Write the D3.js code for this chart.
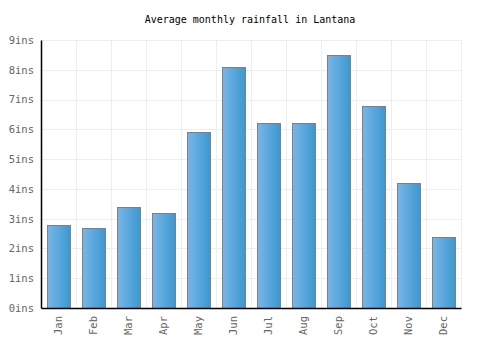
<!DOCTYPE html>
<html>
<head>
<meta charset="utf-8">
<script src="https://cdn.jsdelivr.net/npm/d3@7"></script>
<style>
  body { margin: 0; background: #fff; }
  text { font-family: "DejaVu Sans Mono", monospace; }
</style>
</head>
<body>
<div id="chart"></div>
<script>
const months = ["Jan", "Feb", "Mar", "Apr", "May", "Jun", "Jul", "Aug", "Sep", "Oct", "Nov", "Dec"];
const rainfall = [2.8, 2.7, 3.4, 3.2, 5.9, 8.1, 6.2, 6.2, 8.5, 6.8, 4.2, 2.4];
const yTicks = [0, 1, 2, 3, 4, 5, 6, 7, 8, 9];

const width = 500, height = 350;
const margin = { top: 40, right: 39, bottom: 42, left: 41 };
const innerW = width - margin.left - margin.right;
const innerH = height - margin.top - margin.bottom;

const svg = d3.select("#chart").append("svg")
    .attr("width", width)
    .attr("height", height);

const defs = svg.append("defs");
const grad = defs.append("linearGradient")
    .attr("id", "barGrad")
    .attr("x1", "0%").attr("x2", "100%")
    .attr("y1", "0%").attr("y2", "0%");
grad.append("stop").attr("offset", "0%").attr("stop-color", "#78b6e9");
grad.append("stop").attr("offset", "100%").attr("stop-color", "#3b98cf");

svg.append("text")
    .attr("x", width / 2)
    .attr("y", 23)
    .attr("text-anchor", "middle")
    .style("font-size", "10px")
    .style("fill", "#000")
    .text("Average monthly rainfall in Lantana");

const g = svg.append("g")
    .attr("transform", `translate(${margin.left},${margin.top})`);

const x = d3.scaleBand()
    .domain(months)
    .range([0, innerW])
    .paddingInner(0.33)
    .paddingOuter(0.165);

const y = d3.scaleLinear()
    .domain([0, 9])
    .range([innerH, 0]);

// grid
const step = innerW / months.length;
g.append("g").selectAll("line.v")
    .data(d3.range(months.length + 1))
    .join("line")
    .attr("x1", d => d * step + 0.5).attr("x2", d => d * step + 0.5)
    .attr("y1", 0).attr("y2", innerH)
    .attr("stroke", "#eeeeee");

g.append("g").selectAll("line.h")
    .data(yTicks)
    .join("line")
    .attr("x1", 0).attr("x2", innerW)
    .attr("y1", d => Math.round(y(d)) + 0.5).attr("y2", d => Math.round(y(d)) + 0.5)
    .attr("stroke", "#eeeeee");

// bars
g.selectAll("rect.bar")
    .data(months.map((m, i) => ({ month: m, value: rainfall[i] })))
    .join("rect")
    .attr("class", "bar")
    .attr("x", d => Math.round(x(d.month)) + 0.5)
    .attr("y", d => Math.round(y(d.value)) + 0.5)
    .attr("width", Math.round(x.bandwidth()))
    .attr("height", d => innerH - Math.round(y(d.value)))
    .attr("fill", "url(#barGrad)")
    .attr("stroke", "#808080")
    .attr("stroke-width", 1);

// y axis
const yAxis = g.append("g")
    .call(d3.axisLeft(y).tickValues(yTicks).tickSize(0).tickPadding(7).tickFormat(d => d + "ins"));
yAxis.select(".domain").attr("stroke", "#000").attr("stroke-width", 1.5);
yAxis.selectAll("text").style("font-size", "10.5px").style("fill", "#666").attr("font-family", null);

// x axis
const xAxis = g.append("g")
    .attr("transform", `translate(0,${innerH})`)
    .call(d3.axisBottom(x).tickSize(0).tickPadding(0));
xAxis.select(".domain").attr("stroke", "#000").attr("stroke-width", 1.5);
xAxis.selectAll("text")
    .style("font-size", "10.5px")
    .style("fill", "#666")
    .attr("font-family", null)
    .attr("text-anchor", "end")
    .attr("transform", "rotate(-90)")
    .attr("x", -8)
    .attr("y", 0)
    .attr("dy", "0.35em");
</script>
</body>
</html>
